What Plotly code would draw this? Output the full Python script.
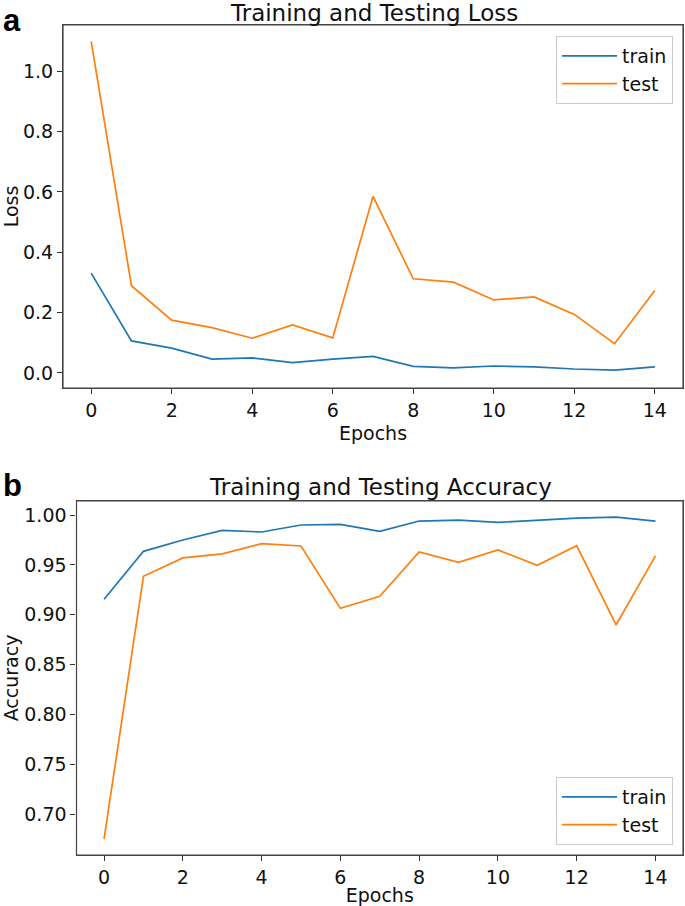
import plotly.graph_objects as go

epochs = list(range(15))
loss_train = [0.331, 0.106, 0.082, 0.046, 0.050, 0.034, 0.046, 0.055, 0.022, 0.017, 0.023, 0.020, 0.013, 0.009, 0.020]
loss_test = [1.099, 0.289, 0.175, 0.150, 0.115, 0.159, 0.116, 0.585, 0.312, 0.301, 0.242, 0.252, 0.194, 0.097, 0.273]
acc_train = [0.9155, 0.9636, 0.975, 0.9846, 0.983, 0.990, 0.9906, 0.9836, 0.994, 0.995, 0.9926, 0.9947, 0.997, 0.998, 0.994]
acc_test = [0.675, 0.9385, 0.957, 0.961, 0.9713, 0.969, 0.9064, 0.9185, 0.963, 0.9526, 0.965, 0.9496, 0.9693, 0.8897, 0.959]

BLUE = "#1f77b4"
ORANGE = "#ff7f0e"
FONT = "DejaVu Sans"
W, H = 685, 906

fig = go.Figure()
fig.add_trace(go.Scatter(x=epochs, y=loss_train, mode="lines", name="train",
                         line=dict(color=BLUE, width=1.7), xaxis="x", yaxis="y", legend="legend"))
fig.add_trace(go.Scatter(x=epochs, y=loss_test, mode="lines", name="test",
                         line=dict(color=ORANGE, width=1.7), xaxis="x", yaxis="y", legend="legend"))
fig.add_trace(go.Scatter(x=epochs, y=acc_train, mode="lines", name="train",
                         line=dict(color=BLUE, width=1.7), xaxis="x2", yaxis="y2", legend="legend2"))
fig.add_trace(go.Scatter(x=epochs, y=acc_test, mode="lines", name="test",
                         line=dict(color=ORANGE, width=1.7), xaxis="x2", yaxis="y2", legend="legend2"))

axis_common = dict(showline=True, mirror=True, linecolor="#444444", linewidth=1.2,
                   ticks="outside", ticklen=5, tickcolor="#333333", showgrid=False,
                   zeroline=False, tickfont=dict(family=FONT, size=19, color="#111111"))

top_dom_y = [(H - 388) / H, (H - 25) / H]
bot_dom_y = [(H - 855) / H, (H - 501) / H]

frame = dict(type="rect", x0=0, x1=1, y0=0, y1=1, line=dict(color="#444444", width=1.2), layer="above")

fig.update_layout(
    width=W, height=H,
    margin=dict(l=0, r=0, t=0, b=0),
    paper_bgcolor="white", plot_bgcolor="white",
    font=dict(family=FONT, color="#111111"),
    xaxis=dict(domain=[63 / W, 683 / W], range=[-0.7, 14.7], dtick=2, anchor="y",
               title=dict(text="Epochs", font=dict(family=FONT, size=19), standoff=6), **axis_common),
    yaxis=dict(domain=top_dom_y, range=[-0.05, 1.1535], dtick=0.2, tickformat=".1f", anchor="x",
               title=dict(text="Loss", font=dict(family=FONT, size=19), standoff=4), **axis_common),
    xaxis2=dict(domain=[76.5 / W, 683 / W], range=[-0.7, 14.7], dtick=2, anchor="y2",
                title=dict(text="Epochs", font=dict(family=FONT, size=19), standoff=6), **axis_common),
    yaxis2=dict(domain=bot_dom_y, range=[0.6589, 1.0141], dtick=0.05, tickformat=".2f", anchor="x2",
                title=dict(text="Accuracy", font=dict(family=FONT, size=19), standoff=4), **axis_common),
    legend=dict(x=673 / W, y=(H - 36) / H, xanchor="right", yanchor="top",
                bgcolor="white", bordercolor="#cccccc", borderwidth=1, itemwidth=55,
                font=dict(family=FONT, size=19)),
    legend2=dict(x=673 / W, y=(H - 845) / H, xanchor="right", yanchor="bottom",
                 bgcolor="white", bordercolor="#cccccc", borderwidth=1, itemwidth=55,
                 font=dict(family=FONT, size=19)),
    shapes=[
        dict(frame, xref="x domain", yref="y domain"),
        dict(frame, xref="x2 domain", yref="y2 domain"),
    ],
    annotations=[
        dict(text="Training and Testing Loss", xref="paper", yref="paper",
             x=(63 + 684) / 2 / W, y=top_dom_y[1], xanchor="center", yanchor="bottom",
             showarrow=False, yshift=-3, font=dict(family=FONT, size=23, color="#111111")),
        dict(text="Training and Testing Accuracy", xref="paper", yref="paper",
             x=(76.5 + 684) / 2 / W, y=bot_dom_y[1], xanchor="center", yanchor="bottom",
             showarrow=False, yshift=-1, font=dict(family=FONT, size=23, color="#111111")),
        dict(text="<b>a</b>", xref="paper", yref="paper", x=0, y=1, xanchor="left", yanchor="top",
             showarrow=False, xshift=1, yshift=-1, font=dict(family="Liberation Sans", size=31, color="black")),
        dict(text="<b>b</b>", xref="paper", yref="paper", x=0, y=(H - 466) / H, xanchor="left", yanchor="top",
             showarrow=False, xshift=1, font=dict(family="Liberation Sans", size=31, color="black")),
    ],
)

fig.write_html("out.html", config={"displayModeBar": False},
               post_script="document.body.style.margin='0px';")
